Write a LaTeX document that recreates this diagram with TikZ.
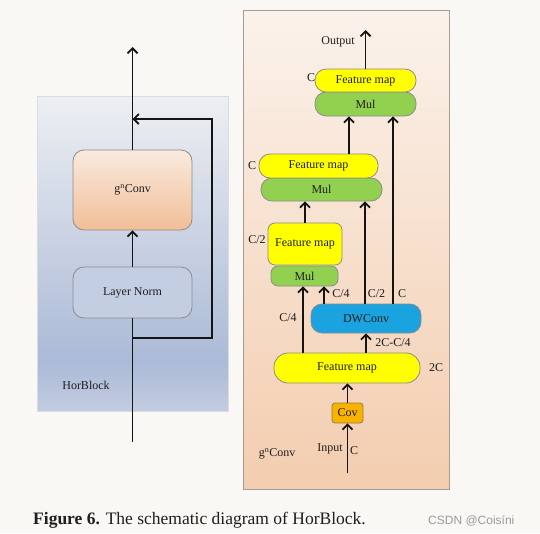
\documentclass[tikz,border=0pt]{standalone}
\usepackage{fontspec}
\setmainfont{Liberation Serif}
\newfontfamily\wmfont{Liberation Sans}
\usetikzlibrary{arrows.meta,calc}

\definecolor{pagebg}{HTML}{F9F8F5}
\definecolor{txtc}{HTML}{1E1E1E}
\definecolor{linec}{HTML}{141414}
\definecolor{boxline}{HTML}{8C8C8C}
\definecolor{lpA}{HTML}{C3CCE0}
\definecolor{lpB}{HTML}{ABBAD7}
\definecolor{lpC}{HTML}{C6CFE2}
\definecolor{lpD}{HTML}{EDEFF2}
\definecolor{lpline}{HTML}{D8DBE2}
\definecolor{rpTop}{HTML}{FBF2EB}
\definecolor{rpBot}{HTML}{F3CDAF}
\definecolor{rpline}{HTML}{A89C92}
\definecolor{gnTop}{HTML}{F9EADF}
\definecolor{gnBot}{HTML}{F2BE97}
\definecolor{lnfill}{HTML}{C3CEE3}
\definecolor{fmyellow}{HTML}{FFFF00}
\definecolor{mulgreen}{HTML}{92D050}
\definecolor{dwblue}{HTML}{1AA3DE}
\definecolor{covor}{HTML}{F7B300}
\definecolor{covline}{HTML}{9C7A3A}
\definecolor{wmc}{HTML}{9A9A9A}

\pgfdeclareverticalshading{lpanelshade}{100bp}{color(0bp)=(lpA); color(25bp)=(lpA); color(33bp)=(lpB); color(50bp)=(lpC); color(75bp)=(lpD); color(100bp)=(lpD)}

\tikzset{
  txt/.style={font=\fontsize{12}{14}\selectfont, text=txtc, inner sep=0pt},
  ln/.style={line width=1.8pt, draw=linec},
  arr/.style={ln, -{Straight Barb[length=5pt,width=10pt]}},
  box/.style={draw=boxline, line width=0.8pt, inner sep=0pt, font=\fontsize{12}{14}\selectfont, text=txtc},
  fmap/.style={box, fill=fmyellow, rounded corners=11pt},
  mulbox/.style={box, fill=mulgreen, rounded corners=11pt},
  lbox/.style={box, rounded corners=11pt, minimum width=119pt},
}

\begin{document}
\begin{tikzpicture}[x=1pt,y=-1pt]
% page
\fill[pagebg] (0,0) rectangle (540,533);
\useasboundingbox (0,0) rectangle (540,533);

% ---------------- left panel ----------------
\path[shading=lpanelshade, draw=lpline, line width=0.6pt] (37,96) rectangle (228,411);
\node[txt] (hb) at (86,385) {HorBlock};

\node[lbox, top color=gnTop, bottom color=gnBot, minimum height=80pt] (gn) at (132.5,190) {g\textsuperscript{n}Conv};
\node[lbox, fill=lnfill, minimum height=51pt] (lnorm) at (132.5,292.5) {Layer Norm};

\coordinate (lbot) at (132.5,442);
\coordinate (ltop) at (132.5,47);
\coordinate (sks) at (132.5,338);
\coordinate (skr1) at (212,338);
\coordinate (skr2) at (212,119);
\coordinate (ske) at (132.5,119);

\draw[ln] (lbot) -- (lnorm.south);
\draw[arr] (lnorm.north) -- (gn.south);
\draw[arr] (gn.north) -- (ltop);
\draw[arr] (sks) -- (skr1) -- (skr2) -- (ske);

% ---------------- right panel ----------------
\path[top color=rpTop, bottom color=rpBot, draw=rpline, line width=0.6pt] (243,10) rectangle (449,489);

\node[mulbox, minimum width=101pt, minimum height=24pt] (mul1) at (365.5,104) {Mul};
\node[fmap, minimum width=101pt, minimum height=23pt] (fm1) at (365.5,80.5) {Feature map};
\node[mulbox, minimum width=121pt, minimum height=23pt] (mul2) at (321.5,189.5) {Mul};
\node[fmap, minimum width=119pt, minimum height=24pt] (fm2) at (318.5,166) {Feature map};
\node[mulbox, rounded corners=7pt, minimum width=67pt, minimum height=20pt] (mul3) at (304.5,276) {Mul};
\node[fmap, rounded corners=7pt, minimum width=74pt, minimum height=42pt] (fm3) at (305,244) {Feature map};
\node[box, fill=dwblue, rounded corners=11pt, minimum width=110pt, minimum height=29pt] (dw) at (366,318.5) {DWConv};
\node[fmap, rounded corners=14pt, minimum width=146pt, minimum height=30pt] (fmb) at (347,368) {Feature map};
\node[box, draw=covline, fill=covor, rounded corners=3pt, minimum width=31pt, minimum height=20pt] (cov) at (347.5,413) {Cov};

\coordinate (out) at (365.5,30);
\coordinate (inp) at (347.5,473);
\coordinate (xa) at (349,0);
\coordinate (xb) at (393,0);
\coordinate (xc) at (305,0);
\coordinate (xd) at (365,0);
\coordinate (xe) at (303,0);
\coordinate (xf) at (324,0);
\coordinate (xg) at (366,0);

\draw[arr] (fm1.north) -- (out);
\draw[arr] (fm2.north -| xa) -- (mul1.south -| xa);
\draw[arr] (dw.north -| xb) -- (mul1.south -| xb);
\draw[arr] (fm3.north -| xc) -- (mul2.south -| xc);
\draw[arr] (dw.north -| xd) -- (mul2.south -| xd);
\draw[arr] (fmb.north -| xe) -- (mul3.south -| xe);
\draw[arr] (dw.north -| xf) -- (mul3.south -| xf);
\draw[arr] (fmb.north -| xg) -- (dw.south -| xg);
\draw[arr] (cov.north) -- (cov.north |- fmb.south);
\draw[arr] (inp) -- (cov.south);

% labels
\node[txt] (lout) at (338,42) {Output};
\node[txt] (lc1) at (311,78) {C};
\node[txt] (lc2) at (252,166) {C};
\node[txt] (lc3) at (257,240) {C/2};
\node[txt] (lc4) at (288,318) {C/4};
\node[txt] (lc5) at (341,294) {C/4};
\node[txt] (lc6) at (376.5,294) {C/2};
\node[txt] (lc7) at (402,294) {C};
\node[txt] (lc8) at (393,343) {2C-C/4};
\node[txt] (lc9) at (436,368) {2C};
\node[txt] (lin) at (330,449) {Input};
\node[txt] (lc10) at (354,451) {C};
\node[txt] (lgn) at (277,454) {g\textsuperscript{n}Conv};

% caption
\node[anchor=base west, inner sep=0pt, font=\fontsize{17.5}{20}\selectfont, text=txtc] (cap) at (33,524) {\textbf{Figure 6.} The schematic diagram of HorBlock.};
\node[anchor=base west, inner sep=0pt, font=\wmfont\fontsize{12}{14}\selectfont, text=wmc] (wm) at (428,524) {CSDN @Coisíni};
\end{tikzpicture}
\end{document}
